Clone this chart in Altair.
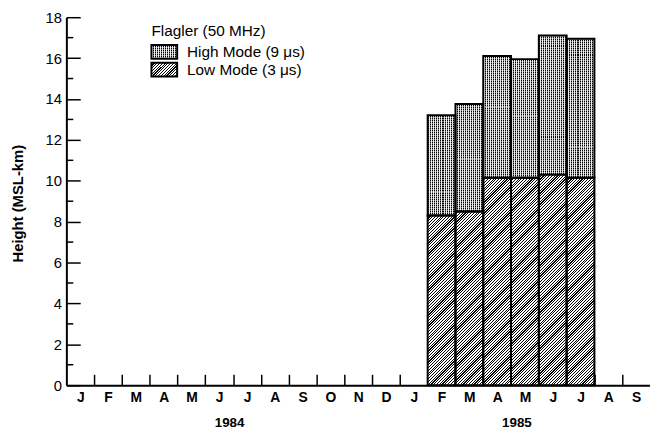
import math
import altair as alt

# ---------------- data ----------------
months = ["J", "F", "M", "A", "M", "J", "J", "A", "S", "O", "N", "D",
          "J", "F", "M", "A", "M", "J", "J", "A", "S"]
years = ["1984", "1985"]
bar_index = [13, 14, 15, 16, 17, 18]          # Feb..Jul 1985
low_mode = [8.3, 8.5, 10.15, 10.15, 10.3, 10.15]
top_height = [13.2, 13.75, 16.1, 15.95, 17.1, 16.95]
y_major = [0, 2, 4, 6, 8, 10, 12, 14, 16, 18]
y_minor = [1, 3, 5, 7, 9, 11, 13, 15, 17]
x_bounds = list(range(1, 21))
legend_title = "Flagler (50 MHz)"
legend_labels = ["High Mode (9 \u03bcs)", "Low Mode (3 \u03bcs)"]
y_title = "Height (MSL-km)"

# ---------------- layout / style ----------------
W, H = 590, 372
N = len(months)
YMAX = 18
PXM = W / N
PXU = H / YMAX
FONT = "Liberation Sans"


def stripe_stops(length, period, frac, on, off):
    stops = []
    n = int(math.ceil(length / period))
    for k in range(n):
        a = min(1.0, k * period / length)
        b = min(1.0, (k * period + frac * period) / length)
        c = min(1.0, (k + 1) * period / length)
        stops += [{"offset": a, "color": on}, {"offset": b, "color": on},
                  {"offset": b, "color": off}, {"offset": c, "color": off}]
    return stops


def hatch(w, h, period=2.8, frac=0.42):
    k = (w + h) / (w + h * h / w)
    return {"gradient": "linear", "x1": 0, "y1": 0, "x2": k, "y2": k * h / w,
            "stops": stripe_stops(w + h, period, frac, "#000000", "#ffffff")}


def vstripes(w, period=2.0):
    return {"gradient": "linear", "x1": 0, "y1": 0, "x2": 1, "y2": 0,
            "stops": stripe_stops(w, period, 0.5, "#000000", "#e6e6e6")}


def hstripes(h, period=2.0):
    return {"gradient": "linear", "x1": 0, "y1": 0, "x2": 0, "y2": 1,
            "stops": stripe_stops(h, period, 0.5, "rgba(255,255,255,0.5)", "rgba(255,255,255,0)")}


records = []
for i, lo, tp in zip(bar_index, low_mode, top_height):
    records.append({
        "m": i, "m2": i + 1, "low": lo, "top": tp,
        "hatch": hatch(PXM, lo * PXU),
        "dots_v": vstripes(PXM),
        "dots_h": hstripes((tp - lo) * PXU),
    })
bar_data = alt.Data(values=records)

x_scale = alt.Scale(domain=[0, N], nice=False, zero=False)
y_scale = alt.Scale(domain=[0, YMAX], nice=False, zero=False)

month_arr = "[" + ",".join("'%s'" % m for m in months) + "]"

x_label_axis = alt.Axis(
    orient="bottom", values=[i + 0.5 for i in range(N)],
    labelExpr=month_arr + "[floor(datum.value)]",
    ticks=False, tickSize=0, domain=True, domainColor="black", domainWidth=2,
    labelFont=FONT, labelFontSize=14, labelFontWeight="bold", labelColor="black",
    labelPadding=5, labelFlush=False, labelOverlap=False, grid=False, title=None)

y_label_axis = alt.Axis(
    orient="left", values=y_major, ticks=False, tickSize=0,
    domain=True, domainColor="black", domainWidth=2,
    labelFont=FONT, labelFontSize=15, labelColor="black", labelPadding=5,
    labelFlush=False, labelOverlap=False, grid=False,
    title=y_title, titleFont=FONT, titleFontSize=15, titleFontWeight="bold",
    titleColor="black", titleAngle=-90, titleX=-49, titleY=188,
    titleBaseline="middle", titleAlign="center")

x_tick_axis = alt.Axis(
    orient="top", offset=-H, values=x_bounds, labels=False, domain=False,
    tickSize=11, tickWidth=1.5, tickColor="black", grid=False, title=None)

y_tick_axis = alt.Axis(
    orient="right", offset=-W, values=y_major, labels=False, domain=False,
    tickSize=14, tickWidth=1.5, tickColor="black", grid=False, title=None)

low_bars = alt.Chart(bar_data).mark_rect(strokeWidth=0).encode(
    x=alt.X("m:Q", scale=x_scale, axis=x_label_axis),
    x2="m2:Q",
    y=alt.Y("low:Q", scale=y_scale, axis=y_label_axis),
    y2=alt.datum(0),
    fill=alt.Fill("hatch:N", scale=None),
)

high_base = alt.Chart(bar_data).mark_rect(strokeWidth=0).encode(
    x=alt.X("m:Q", scale=x_scale, axis=x_tick_axis),
    x2="m2:Q",
    y=alt.Y("top:Q", scale=y_scale, axis=y_tick_axis),
    y2="low:Q",
    fill=alt.Fill("dots_v:N", scale=None),
)

high_dots = alt.Chart(bar_data).mark_rect(strokeWidth=0).encode(
    x=alt.X("m:Q", scale=x_scale, axis=None),
    x2="m2:Q",
    y=alt.Y("top:Q", scale=y_scale, axis=None),
    y2="low:Q",
    fill=alt.Fill("dots_h:N", scale=None),
)

outline_low = alt.Chart(bar_data).mark_rect(
    fill="white", fillOpacity=0, stroke="black", strokeWidth=2).encode(
    x=alt.X("m:Q", scale=x_scale, axis=None),
    x2="m2:Q",
    y=alt.Y("low:Q", scale=y_scale, axis=None),
    y2=alt.datum(0),
)

outline_high = alt.Chart(bar_data).mark_rect(
    fill="white", fillOpacity=0, stroke="black", strokeWidth=2).encode(
    x=alt.X("m:Q", scale=x_scale, axis=None),
    x2="m2:Q",
    y=alt.Y("top:Q", scale=y_scale, axis=None),
    y2="low:Q",
)

minor_ticks = alt.Chart(alt.Data(values=[{"v": v} for v in y_minor])).mark_rule(
    color="black", strokeWidth=1.5).encode(
    y=alt.Y("v:Q", scale=y_scale, axis=None),
    x=alt.value(0), x2=alt.value(7),
)

one = alt.Data(values=[{"k": 0}])

year_1984 = alt.Chart(one).mark_text(
    font=FONT, fontSize=13.5, fontWeight="bold", color="black",
    align="center", baseline="middle").encode(
    x=alt.value(165), y=alt.value(410), text=alt.value(years[0]))
year_1985 = alt.Chart(one).mark_text(
    font=FONT, fontSize=13.5, fontWeight="bold", color="black",
    align="center", baseline="middle").encode(
    x=alt.value(455.5), y=alt.value(410), text=alt.value(years[1]))

leg_title = alt.Chart(one).mark_text(
    font=FONT, fontSize=15.5, color="black", align="left", baseline="middle").encode(
    x=alt.value(86), y=alt.value(14), text=alt.value(legend_title))

SW_W, SW_H = 26, 14
sw_high_base = alt.Chart(one).mark_rect(strokeWidth=0, fill=vstripes(SW_W)).encode(
    x=alt.value(86), x2=alt.value(86 + SW_W), y=alt.value(28), y2=alt.value(28 + SW_H))
sw_high_dots = alt.Chart(one).mark_rect(strokeWidth=0, fill=hstripes(SW_H)).encode(
    x=alt.value(86), x2=alt.value(86 + SW_W), y=alt.value(28), y2=alt.value(28 + SW_H))
sw_low = alt.Chart(one).mark_rect(strokeWidth=0, fill=hatch(SW_W, SW_H)).encode(
    x=alt.value(86), x2=alt.value(86 + SW_W), y=alt.value(46), y2=alt.value(46 + SW_H))
sw_out1 = alt.Chart(one).mark_rect(fill="white", fillOpacity=0, stroke="black", strokeWidth=2).encode(
    x=alt.value(86), x2=alt.value(86 + SW_W), y=alt.value(28), y2=alt.value(28 + SW_H))
sw_out2 = alt.Chart(one).mark_rect(fill="white", fillOpacity=0, stroke="black", strokeWidth=2).encode(
    x=alt.value(86), x2=alt.value(86 + SW_W), y=alt.value(46), y2=alt.value(46 + SW_H))

leg_lab1 = alt.Chart(one).mark_text(
    font=FONT, fontSize=15.5, color="black", align="left", baseline="middle").encode(
    x=alt.value(122), y=alt.value(35), text=alt.value(legend_labels[0]))
leg_lab2 = alt.Chart(one).mark_text(
    font=FONT, fontSize=15.5, color="black", align="left", baseline="middle").encode(
    x=alt.value(122), y=alt.value(53), text=alt.value(legend_labels[1]))

chart = alt.layer(
    low_bars, high_base, high_dots, outline_low, outline_high, minor_ticks,
    year_1984, year_1985, leg_title,
    sw_high_base, sw_high_dots, sw_low, sw_out1, sw_out2, leg_lab1, leg_lab2,
).resolve_axis(x="independent", y="independent").properties(
    width=W, height=H,
    autosize=alt.AutoSizeParams(type="none"),
    padding={"left": 59, "top": 7, "right": 0, "bottom": 45},
    background="white",
).configure_view(stroke=None)

chart.save("out.html", embed_options={"renderer": "svg", "actions": False})
